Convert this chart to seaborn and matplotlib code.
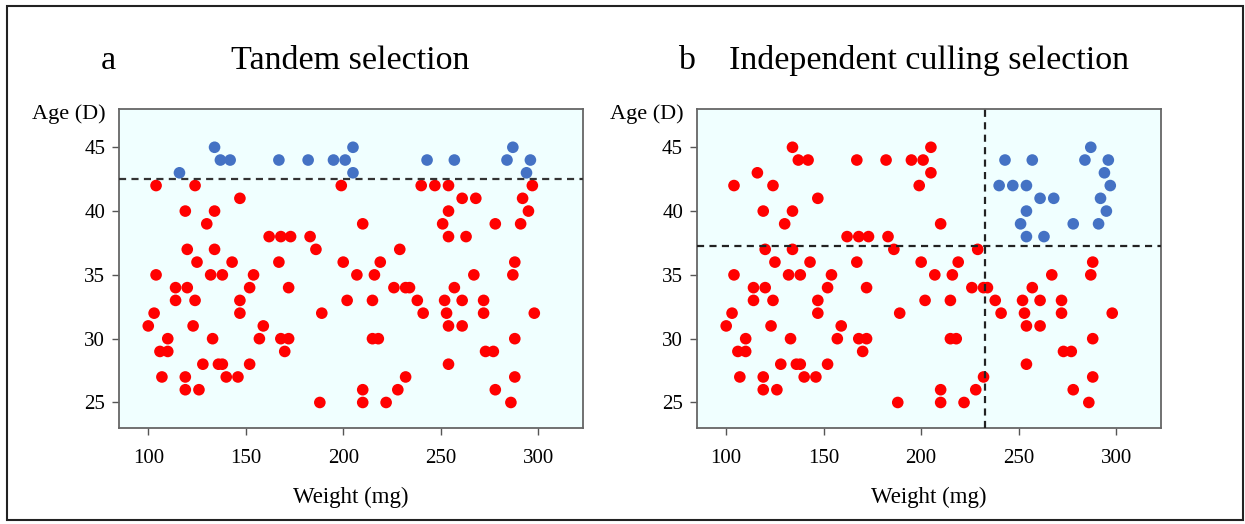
import matplotlib
matplotlib.use("Agg")
import pandas as pd
import matplotlib.pyplot as plt
import seaborn as sns
from matplotlib.patches import Rectangle

# points, grouped by age (days)
ages = [45, 44, 43, 42, 41, 40, 39, 38, 37, 36, 35,
        34, 33, 32, 31, 30, 29, 28, 27, 26, 25]
weights_by_age = [
    [134, 205, 287],
    [137, 142, 167, 182, 195, 201, 243, 257, 284, 296],
    [116, 205, 294],
    [104, 124, 199, 240, 247, 254, 297],
    [147, 261, 268, 292],
    [119, 134, 254, 295],
    [130, 210, 251, 278, 291],
    [162, 168, 173, 183, 254, 263],
    [120, 134, 186, 229],
    [125, 143, 167, 200, 219, 288],
    [104, 132, 138, 154, 207, 216, 267, 287],
    [114, 120, 152, 172, 226, 232, 234, 257],
    [114, 124, 147, 202, 215, 238, 252, 261, 272],
    [103, 147, 189, 241, 253, 272, 298],
    [100, 123, 159, 254, 261],
    [110, 133, 157, 168, 172, 215, 218, 288],
    [106, 110, 170, 273, 277],
    [128, 136, 138, 152, 254],
    [107, 119, 140, 146, 232, 288],
    [119, 126, 210, 228, 278],
    [188, 210, 222, 286],
]

# selection thresholds
tandem_age_cut = 42.5
culling_age_cut = 37.3
culling_weight_cut = 232.5

x_ticks = [100, 150, 200, 250, 300]
y_ticks = [25, 30, 35, 40, 45]

rows = []
for a, ws in zip(ages, weights_by_age):
    for w in ws:
        rows.append({"weight": w, "age": a})
df = pd.DataFrame(rows)
df["tandem"] = df["age"] > tandem_age_cut
df["culling"] = (df["age"] > culling_age_cut) & (df["weight"] > culling_weight_cut)

sns.set_style("ticks")
plt.rcParams['font.family'] = ['Liberation Serif', 'DejaVu Serif']
plt.rcParams['text.color'] = 'black'
plt.rcParams['axes.labelcolor'] = 'black'

fig = plt.figure(figsize=(12.45, 5.24), dpi=100)
ax1 = fig.add_axes([0.0956, 0.1832, 0.3727, 0.6088])
ax2 = fig.add_axes([0.5598, 0.1832, 0.3727, 0.6088])

palette = {False: "#FF0000", True: "#4472C4"}
dash = (0, (3.2, 2.4))

for ax, col in [(ax1, "tandem"), (ax2, "culling")]:
    sns.scatterplot(data=df.sort_values(col), x="weight", y="age", hue=col,
                    palette=palette, s=70, linewidth=0, legend=False, ax=ax,
                    zorder=2)
    ax.set_facecolor("#F0FFFF")
    ax.set_xlim(85, 323)
    ax.set_ylim(23, 48)
    ax.set_xticks(x_ticks)
    ax.set_yticks(y_ticks)
    ax.tick_params(labelsize=15, length=5, width=1, color="#555555",
                   labelcolor="black")
    ax.tick_params(axis="x", pad=10)
    ax.tick_params(axis="y", pad=5)
    for sp in ax.spines.values():
        sp.set_visible(True)
        sp.set_color("#666666")
        sp.set_linewidth(1.3)
    ax.set_xlabel("Weight (mg)", fontsize=16.5, labelpad=14)
    ax.set_ylabel("")
    ax.text(-0.028, 0.984, "Age (D)", transform=ax.transAxes, ha="right",
            va="center", fontsize=16)

ax1.axhline(tandem_age_cut, color="#333333", lw=1.6, ls=dash, zorder=3)
ax2.axhline(culling_age_cut, color="#222222", lw=1.6, ls=dash, zorder=3)
ax2.axvline(culling_weight_cut, color="#222222", lw=1.6, ls=dash, zorder=3)

ty = 0.884
fig.text(0.0867, ty, "a", fontsize=24.5, ha="center", va="center")
fig.text(0.2811, ty, "Tandem selection", fontsize=24.5, ha="center", va="center")
fig.text(0.551, ty, "b", fontsize=24.5, ha="center", va="center")
fig.text(0.7458, ty, "Independent culling selection", fontsize=24.5,
         ha="center", va="center")

# outer frame
fig.patches.append(Rectangle((0.006, 0.008), 0.992, 0.98, transform=fig.transFigure,
                             fill=False, edgecolor="#222222", linewidth=1.5))

fig.savefig("out.png", dpi=100)
